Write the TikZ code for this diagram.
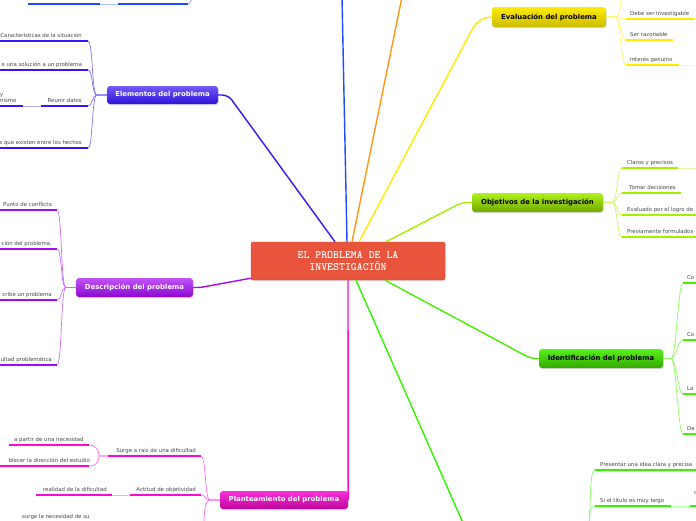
\documentclass[tikz,border=0pt]{standalone}
\usepackage{fontspec}
\setmainfont{DejaVu Sans}
\usetikzlibrary{shadows}

\definecolor{rootc}{RGB}{232,85,60}
\definecolor{elemc}{RGB}{55,20,250}
\definecolor{upblue}{RGB}{30,75,255}
\definecolor{descc}{RGB}{165,10,245}
\definecolor{planc}{RGB}{250,10,210}
\definecolor{evalc}{RGB}{255,235,0}
\definecolor{objc}{RGB}{165,240,0}
\definecolor{identc}{RGB}{70,240,0}
\definecolor{greenc}{RGB}{50,245,0}
\definecolor{orangec}{RGB}{255,150,20}
\definecolor{subgray}{RGB}{70,70,70}

\begin{document}
\begin{tikzpicture}[x=1pt, y=-1pt,
  mainbox/.style={draw=rootc!85!black, fill=rootc, rounded corners=2pt,
                  minimum width=194pt, minimum height=38pt, text=white,
                  align=center, font=\fontsize{11.3}{12}\selectfont\ttfamily\bfseries,
                  drop shadow={opacity=0.25, shadow xshift=0.5pt, shadow yshift=-1pt}},
  topicbox/.style={rounded corners=3pt, inner sep=0pt,
                   font=\fontsize{6.9}{8}\selectfont\bfseries,
                   drop shadow={opacity=0.3, shadow xshift=0.6pt, shadow yshift=-1.2pt}},
  subtext/.style={inner sep=0pt, text=subgray, font=\fontsize{5.4}{6.5}\selectfont},
  uline/.style={line width=2pt},
  thin/.style={line width=0.7pt},
  branch/.style={line width=1.4pt}
]
  \useasboundingbox (0,0) rectangle (696,520);
  \clip (0,0) rectangle (696,520);

  % Noeud central et sujets
  \node[mainbox] (root) at (348,261) {EL PROBLEMA DE LA\\INVESTIGACIÓN};
  \node[topicbox, minimum width=111pt, minimum height=18pt, text=white,
        top color=elemc!70!white, bottom color=elemc!85!black] (elem) at (162.5,95) {Elementos del problema};
  \node[topicbox, minimum width=117pt, minimum height=19pt, text=white,
        top color=descc!70!white, bottom color=descc!85!black] (desc) at (134.5,287.5) {Descripción del problema};
  \node[topicbox, minimum width=128pt, minimum height=18pt, text=white,
        top color=planc!85!white, bottom color=planc!75!black] (plan) at (284,500) {Planteamiento del problema};
  \node[topicbox, minimum width=114pt, minimum height=20pt, text=black,
        top color=evalc, bottom color=evalc!80!black] (eval) at (549,17) {Evaluación del problema};
  \node[topicbox, minimum width=131pt, minimum height=19pt, text=black,
        top color=objc!90!white, bottom color=objc!70!black] (obj) at (537.5,202.5) {Objetivos de la investigación};
  \node[topicbox, minimum width=124pt, minimum height=19pt, text=black,
        top color=identc!90!white, bottom color=identc!70!black] (ident) at (601,358.5) {Identificación del problema};

  % Branches principales
  \coordinate (boff) at (342,-3);
  \coordinate (oroff) at (402,-3);
  \coordinate (goff) at (463,523);
  \draw[branch, upblue] ([xshift=-1pt]root.north) -- (boff);
  \draw[branch, orangec] ([xshift=4pt]root.north) -- (oroff);
  \draw[branch, evalc, rounded corners=12pt] ([xshift=11pt]root.north) -- ([xshift=-13pt]eval.west) -- (eval.west);
  \draw[branch, objc, rounded corners=6pt] ([xshift=38pt]root.north) -- ([xshift=-10pt]obj.west) -- (obj.west);
  \draw[branch, identc, rounded corners=6pt] ([xshift=37pt]root.south) -- ([xshift=-8pt]ident.west) -- (ident.west);
  \draw[branch, greenc] ([xshift=8pt]root.south) -- (goff);
  \draw[branch, planc] (root.south) -- (plan.east);
  \draw[branch, descc, rounded corners=3pt] (desc.east) -- ++(7,0) -- ([yshift=2pt]root.south west);
  \draw[branch, elemc, rounded corners=6pt] (elem.east) -- ++(10,0) -- ([xshift=-13pt]root.north);

  % Elementos del problema
  \foreach \y/\x/\t [count=\i] in {41/0/{Características de la situación},
      70/0/{e una solución a un problema}, 106/41/{Reunir datos},
      148/0/{a que existen entre los hechos}} {
    \coordinate (e\i) at (88,\y);
    \coordinate (el\i) at (\x,\y);
    \draw[uline, elemc] (e\i) -- (el\i);
    \node[subtext, anchor=base east] (et\i) at (82,\y-3.5) {\t};
    \draw[thin, elemc!60] (elem.west) -- ++(-10,0) .. controls +(-5,0) and +(5,0) .. (e\i);
  }
  \coordinate (e3c) at (23,106);
  \coordinate (e3cl) at (0,106);
  \draw[thin, elemc!35] (el3) -- (e3c);
  \draw[uline, elemc] (e3c) -- (e3cl);
  \node[subtext, anchor=south west, align=left] (et3c) at (0,103) {y\\nismo};

  % Sous-branches en haut a gauche
  \coordinate (u1) at (188,4);
  \coordinate (u1l) at (118,4);
  \coordinate (u2) at (100,4);
  \coordinate (u2l) at (28,4);
  \coordinate (uoff) at (192,-4);
  \draw[uline, upblue] (u1) -- (u1l);
  \draw[thin, upblue!35] (u1l) -- (u2);
  \draw[uline, upblue] (u2) -- (u2l);
  \draw[thin, upblue!60] (uoff) .. controls +(0,4) and +(2,0) .. (u1);

  % Descripcion del problema
  \foreach \y/\t [count=\i] in {210/{Punto de conflicto}, 249/{ción del problema.},
      300/{cribe un problema}, 365/{ultad problemática}} {
    \coordinate (d\i) at (57,\y);
    \coordinate (dl\i) at (0,\y);
    \draw[uline, descc] (d\i) -- (dl\i);
    \node[subtext, anchor=base east] (dt\i) at (52,\y-3.5) {\t};
    \draw[thin, descc!60] (desc.west) -- ++(-10,0) .. controls +(-5,0) and +(5,0) .. (d\i);
  }

  % Planteamiento del problema
  \coordinate (p1) at (201,456);
  \coordinate (p1l) at (108,456);
  \coordinate (p2) at (201,495);
  \coordinate (p2l) at (130,495);
  \coordinate (poff) at (204,523);
  \draw[uline, planc] (p1) -- (p1l);
  \draw[uline, planc] (p2) -- (p2l);
  \node[subtext, anchor=base east] (pt1) at (196,452.5) {Surge a raíz de una dificultad};
  \node[subtext, anchor=base east] (pt2) at (196,491.5) {Actitud de objetividad};
  \foreach \p in {p1,p2} {
    \draw[thin, planc!60] (plan.west) -- ++(-10,0) .. controls +(-5,0) and +(5,0) .. (\p);
  }
  \draw[thin, planc!60] (plan.west) -- ++(-10,0) .. controls +(-5,0) and +(0,-8) .. (poff);
  \node[subtext, anchor=base west] (pt3) at (22,518) {surge la necesidad de su};

  % enfants de "Surge a raiz"
  \coordinate (p1a) at (89,445);
  \coordinate (p1al) at (9,445);
  \coordinate (p1b) at (89,466);
  \coordinate (p1bl) at (0,466);
  \draw[uline, planc] (p1a) -- (p1al);
  \draw[uline, planc] (p1b) -- (p1bl);
  \node[subtext, anchor=base west] (pt1a) at (14,441.5) {a partir de una necesidad};
  \node[subtext, anchor=base east] (pt1b) at (90,462.5) {blecer la dirección del estudio};
  \draw[thin, planc!60] (p1l) -- ++(-9,0) .. controls +(0,-8) and +(5,0) .. (p1a);
  \draw[thin, planc!60] (p1l) -- ++(-9,0) .. controls +(0,8) and +(5,0) .. (p1b);

  % enfant de "Actitud"
  \coordinate (p2a) at (112,495);
  \coordinate (p2al) at (36,495);
  \draw[thin, planc!35] (p2l) -- (p2a);
  \draw[uline, planc] (p2a) -- (p2al);
  \node[subtext, anchor=base east] (pt2a) at (107,491.5) {realidad de la dificultad};

  % Evaluacion del problema
  \foreach \y/\x/\t [count=\i] in {19/695/{Debe ser investigable}, 40/673/{Ser razonable},
      65/679/{Interés genuino}} {
    \coordinate (v\i) at (626,\y);
    \coordinate (vr\i) at (\x,\y);
    \draw[uline, evalc] (v\i) -- (vr\i);
    \node[subtext, anchor=base west] (vt\i) at (630,\y-3.5) {\t};
    \draw[thin, evalc!60] (eval.east) -- ++(9,0) .. controls +(5,0) and +(-5,0) .. (v\i);
  }
  \coordinate (voff) at (621,-4);
  \coordinate (v3e) at (696,65);
  \draw[thin, evalc!60] (eval.east) -- ++(9,0) .. controls +(5,0) and +(0,6) .. (voff);
  \draw[thin, evalc!35] (vr3) -- (v3e);

  % Objetivos de la investigacion
  \foreach \y/\x/\tx/\t [count=\i] in {168/678/627/{Claros y precisos}, 193/681/629/{Tomar decisiones},
      215/696/627/{Evaluado por el logro de}, 237/696/627/{Previamente formulados}} {
    \coordinate (o\i) at (622,\y);
    \coordinate (or\i) at (\x,\y);
    \draw[uline, objc] (o\i) -- (or\i);
    \node[subtext, anchor=base west] (ot\i) at (\tx,\y-3.5) {\t};
    \draw[thin, objc!60] (obj.east) -- ++(9,0) .. controls +(5,0) and +(-5,0) .. (o\i);
  }
  \coordinate (o1e) at (696,168);
  \draw[thin, objc!35] (or1) -- (o1e);

  % Identificacion del problema
  \foreach \y/\t [count=\i] in {283/Co, 340/Co, 394/La, 434/De} {
    \coordinate (n\i) at (683,\y);
    \coordinate (nr\i) at (696,\y);
    \draw[uline, identc] (n\i) -- (nr\i);
    \node[subtext, anchor=base west] (nt\i) at (687,\y-3.5) {\t};
    \draw[thin, identc!60] (ident.east) -- ++(8,0) .. controls +(5,0) and +(-5,0) .. (n\i);
  }

  % Branche verte du bas
  \coordinate (gjunc) at (589,523);
  \coordinate (g1) at (595,470);
  \coordinate (g1r) at (696,470);
  \coordinate (g2) at (595,506);
  \coordinate (g2r) at (671,506);
  \coordinate (g2c) at (690,506);
  \coordinate (g2cr) at (696,506);
  \draw[uline, greenc] (g1) -- (g1r);
  \draw[uline, greenc] (g2) -- (g2r);
  \draw[thin, greenc!35] (g2r) -- (g2c);
  \draw[uline, greenc] (g2c) -- (g2cr);
  \node[subtext, anchor=base west] (gt1) at (600,466.5) {Presentar una idea clara y precisa};
  \node[subtext, anchor=base west] (gt2) at (600,502.5) {Si el título es muy largo};
  \node[subtext, anchor=base west] (gt2c) at (694,494.5) {c};
  \draw[thin, greenc!60] (gjunc) .. controls +(2,-30) and +(-5,0) .. (g1);
  \draw[thin, greenc!60] (gjunc) .. controls +(1,-10) and +(-5,0) .. (g2);
\end{tikzpicture}
\end{document}
